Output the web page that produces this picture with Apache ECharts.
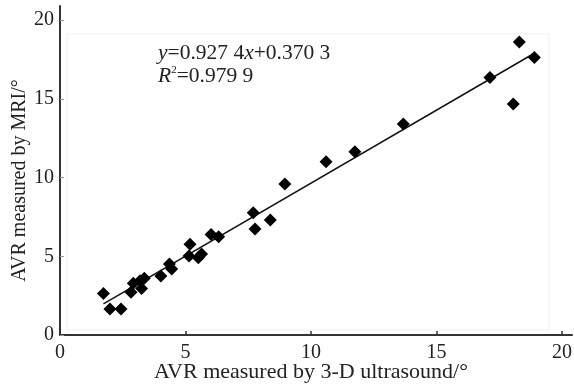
<!DOCTYPE html>
<html>
<head>
<meta charset="utf-8">
<script src="https://cdn.jsdelivr.net/npm/echarts@6/dist/echarts.min.js"></script>
<style>
html,body{margin:0;padding:0;background:#fff;}
#chart{width:574px;height:385px;}
</style>
</head>
<body>
<div id="chart"></div>
<script>
// Data
const ultrasoundValues = [1.73, 1.99, 2.43, 2.83, 2.92, 3.25, 3.19, 3.36, 4.02, 4.36, 4.45, 5.14, 5.18, 5.51, 5.64, 6.02, 6.32, 7.70, 7.77, 8.38, 8.96, 10.60, 11.75, 13.68, 17.13, 18.06, 18.30, 18.90];
const mriValues        = [2.64, 1.65, 1.65, 2.71, 3.28, 2.96, 3.45, 3.60, 3.75, 4.51, 4.19, 5.02, 5.76, 4.91, 5.14, 6.39, 6.24, 7.77, 6.73, 7.30, 9.59, 11.00, 11.64, 13.40, 16.36, 14.67, 18.62, 17.63];
const tickValues = [0, 5, 10, 15, 20];
const fitSlope = 0.9274;
const fitIntercept = 0.3703;
const fitXRange = [1.73, 18.9];
const xAxisTitle = 'AVR measured by 3-D ultrasound/°';
const yAxisTitle = 'AVR measured by MRI/°';

const scatterData = ultrasoundValues.map((x, i) => [x, mriValues[i]]);
const fitData = fitXRange.map(x => [x, fitSlope * x + fitIntercept]);

const font = 'Liberation Serif';
const chart = echarts.init(document.getElementById('chart'));
chart.setOption({
  animation: false,
  backgroundColor: '#fff',
  grid: { left: 60, right: 2, top: 6, bottom: 50, containLabel: false, outerBoundsMode: 'none' },
  xAxis: {
    type: 'value', min: 0, max: 20.4,
    name: xAxisTitle, nameLocation: 'middle', nameGap: 26, nameMoveOverlap: false,
    nameTextStyle: { fontFamily: font, fontSize: 22, color: '#222', padding: [0, 10, 0, 0] },
    axisLine: { show: true, onZero: false, lineStyle: { color: '#333', width: 2 } },
    axisTick: { show: true, inside: true, length: 4, customValues: tickValues, lineStyle: { color: '#333', width: 1.5 } },
    axisLabel: { customValues: tickValues, fontFamily: font, fontSize: 20, color: '#222', margin: 8 },
    splitLine: { show: false }
  },
  yAxis: {
    type: 'value', min: 0, max: 20.9,
    name: yAxisTitle, nameLocation: 'middle', nameGap: 30, nameMoveOverlap: false,
    nameTextStyle: { fontFamily: font, fontSize: 20, color: '#222', padding: [0, 20, 0, 0] },
    axisLine: { show: true, onZero: false, lineStyle: { color: '#333', width: 2 } },
    axisTick: { show: true, inside: true, length: 4, customValues: tickValues, lineStyle: { color: '#999', width: 1 } },
    axisLabel: { customValues: tickValues, fontFamily: font, fontSize: 20, color: '#222', margin: 6 },
    splitLine: { show: false }
  },
  graphic: [
    { type: 'rect', z: -1, shape: { x: 67, y: 34, width: 482, height: 296 }, style: { fill: 'none', stroke: '#efefef', lineWidth: 1 } },
    { type: 'text', left: 158, top: 42, style: {
        text: '{i|y}=0.927 4{i|x}+0.370 3\n{i|R}{s|2}=0.979 9',
        font: '21.5px "Liberation Serif"', fill: '#222', lineHeight: 23,
        rich: {
          i: { fontStyle: 'italic', fontFamily: font, fontSize: 21.5, fill: '#222' },
          s: { fontFamily: font, fontSize: 11, verticalAlign: 'top', padding: [0, 0, 8, 0], fill: '#222' }
        }
    } }
  ],
  series: [
    {
      type: 'line', data: fitData, symbol: 'none', silent: true,
      lineStyle: { color: '#111', width: 1.5 }, z: 2
    },
    {
      type: 'scatter', data: scatterData, symbol: 'diamond', symbolSize: 13,
      itemStyle: { color: '#000', opacity: 1 }, z: 3
    }
  ]
});
</script>
</body>
</html>
